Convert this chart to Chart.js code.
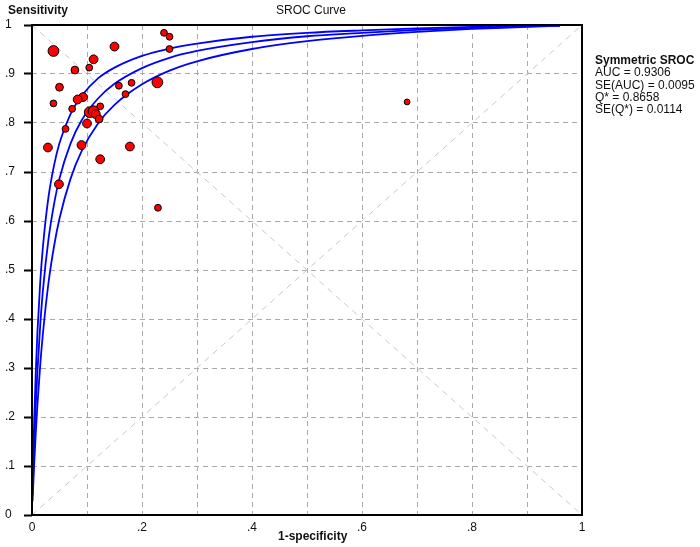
<!DOCTYPE html>
<html>
<head>
<meta charset="utf-8">
<script src="https://cdn.jsdelivr.net/npm/chart.js@4/dist/chart.umd.min.js"></script>
<style>
  body { margin: 0; background: #fff; }
  canvas { display: block; }
</style>
</head>
<body>
<canvas id="srocChart" width="700" height="547"></canvas>
<script>
// study points (1-specificity, sensitivity) and relative weight
const studyFpr = [0.039, 0.150, 0.240, 0.250, 0.250, 0.112, 0.078, 0.104, 0.050, 0.158,
                  0.181, 0.228, 0.170, 0.093, 0.083, 0.039, 0.124, 0.073, 0.105, 0.112,
                  0.116, 0.122, 0.100, 0.061, 0.029, 0.090, 0.178, 0.124, 0.049, 0.229, 0.682];
const studySens = [0.947, 0.956, 0.984, 0.976, 0.951, 0.930, 0.908, 0.913, 0.873, 0.876,
                   0.882, 0.883, 0.859, 0.853, 0.848, 0.840, 0.834, 0.829, 0.822, 0.824,
                   0.818, 0.808, 0.799, 0.788, 0.750, 0.755, 0.752, 0.726, 0.675, 0.627, 0.843];
const studyWeight = [3, 2, 1, 1, 1, 2, 1.5, 1, 1.5, 1,
                     1, 3, 1, 2, 2, 1, 1, 1, 3, 3,
                     2, 1.5, 2, 1, 2, 2, 2, 2, 2, 1, 0.5];

// SROC curve and its upper / lower bands
const curveFpr = [0.001, 0.002, 0.004, 0.007, 0.01, 0.015, 0.02, 0.03, 0.04, 0.05, 0.07, 0.09,
                  0.12, 0.15, 0.2, 0.25, 0.3, 0.4, 0.5, 0.6, 0.7, 0.8, 0.9, 0.96];
const srocUpper = [0.056, 0.107, 0.194, 0.296, 0.376, 0.476, 0.549, 0.649, 0.713, 0.759, 0.818, 0.855,
                   0.891, 0.913, 0.937, 0.952, 0.962, 0.976, 0.984, 0.989, 0.993, 0.996, 0.998, 0.999];
const srocMid = [0.040, 0.077, 0.143, 0.227, 0.296, 0.388, 0.460, 0.563, 0.634, 0.687, 0.758, 0.805,
                 0.850, 0.880, 0.912, 0.933, 0.947, 0.965, 0.977, 0.984, 0.990, 0.994, 0.997, 0.999];
const srocLower = [0.028, 0.055, 0.105, 0.170, 0.227, 0.307, 0.372, 0.474, 0.548, 0.605, 0.686, 0.742,
                   0.799, 0.837, 0.879, 0.907, 0.926, 0.951, 0.967, 0.978, 0.986, 0.992, 0.996, 0.999];

const diagX = [0, 1];
const diagUp = [0, 1];
const diagDown = [1, 0];

const statLines = ['AUC = 0.9306', 'SE(AUC) = 0.0095', 'Q* = 0.8658', 'SE(Q*) = 0.0114'];

const toPts = (xs, ys) => xs.map((x, i) => ({ x: x, y: ys[i] }));
const fmt = v => {
    const r = Math.round(v * 10) / 10;
    if (r === 0) return '0';
    if (r === 1) return '1';
    return r.toFixed(1).replace(/^0/, '');
};

const curveStyle = { showLine: true, pointRadius: 0, borderColor: '#0000ff', borderWidth: 1.8, fill: false, cubicInterpolationMode: 'monotone' };
const diagStyle = { showLine: true, pointRadius: 0, borderColor: '#c8c8c8', borderWidth: 1, borderDash: [6, 5] };

// frame + texts
const decor = {
    id: 'decor',
    afterDraw(chart) {
        const ctx = chart.ctx;
        const a = chart.chartArea;
        ctx.save();
        ctx.strokeStyle = '#000';
        ctx.lineWidth = 2;
        ctx.strokeRect(a.left, a.top, a.right - a.left, a.bottom - a.top);

        ctx.fillStyle = '#111';
        ctx.textBaseline = 'middle';
        ctx.textAlign = 'left';
        ctx.font = 'bold 12px "Liberation Sans", Arial, sans-serif';
        ctx.fillText('Sensitivity', 8, 11);
        ctx.fillText('1-specificity', 278, 537);
        ctx.fillText('Symmetric SROC', 595, 61);
        ctx.font = '12px "Liberation Sans", Arial, sans-serif';
        ctx.fillText('SROC Curve', 276, 11);
        statLines.forEach((t, i) => ctx.fillText(t, 595, 73 + i * 12.2));
        ctx.restore();
    }
};

new Chart(document.getElementById('srocChart'), {
    type: 'scatter',
    data: {
        datasets: [
            {
                data: toPts(studyFpr, studySens),
                backgroundColor: '#ff0000',
                borderColor: '#000',
                borderWidth: 1,
                pointRadius: studyWeight.map(w => 2.4 + w)
            },
            Object.assign({ data: toPts(curveFpr, srocUpper) }, curveStyle),
            Object.assign({ data: toPts(curveFpr, srocMid) }, curveStyle),
            Object.assign({ data: toPts(curveFpr, srocLower) }, curveStyle),
            Object.assign({ data: toPts(diagX, diagUp) }, diagStyle),
            Object.assign({ data: toPts(diagX, diagDown) }, diagStyle)
        ]
    },
    options: {
        responsive: false,
        animation: false,
        layout: { padding: { left: 5, top: 25, right: 118, bottom: 0 } },
        plugins: { legend: { display: false }, title: { display: false }, tooltip: { enabled: false } },
        scales: {
            x: {
                type: 'linear', min: 0, max: 1,
                afterFit: s => { s.height = 32; },
                grid: { color: '#aaaaaa', drawTicks: false },
                border: { display: false, dash: [5, 4] },
                ticks: {
                    stepSize: 0.1, padding: 5, color: '#111',
                    font: { family: '"Liberation Sans", Arial, sans-serif', size: 12 },
                    autoSkip: false, maxRotation: 0,
                    callback: v => (Math.round(v * 10) % 2 === 0 ? fmt(v) : '')
                }
            },
            y: {
                type: 'linear', min: 0, max: 1,
                afterFit: s => { s.width = 27; },
                grid: { color: '#aaaaaa', tickColor: '#000', tickLength: 8, tickWidth: 2 },
                border: { display: false, dash: [5, 4] },
                ticks: {
                    stepSize: 0.1, crossAlign: 'far', color: '#111',
                    font: { family: '"Liberation Sans", Arial, sans-serif', size: 12 },
                    autoSkip: false,
                    callback: v => fmt(v)
                }
            }
        }
    },
    plugins: [decor]
});
</script>
</body>
</html>
